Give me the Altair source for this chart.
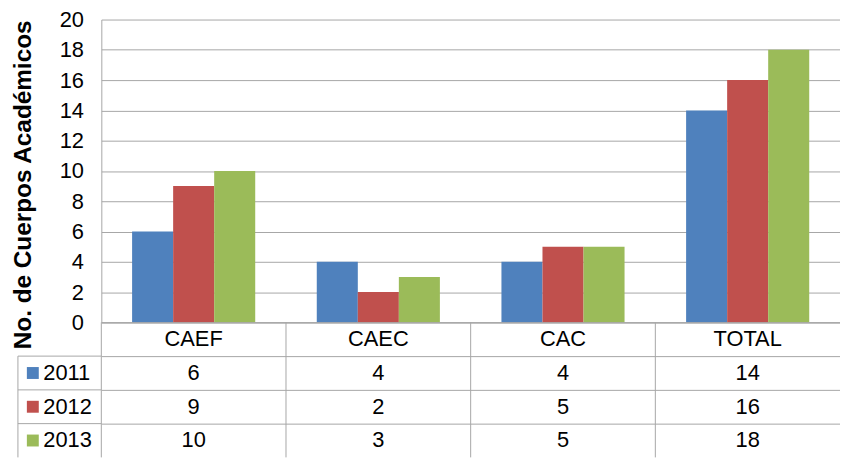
import altair as alt
import pandas as pd

categories = ["CAEF", "CAEC", "CAC", "TOTAL"]
years = ["2011", "2012", "2013"]
v2011 = [6, 4, 4, 14]
v2012 = [9, 2, 5, 16]
v2013 = [10, 3, 5, 18]
colors = ["#4F81BD", "#C0504D", "#9BBB59"]
y_ticks = list(range(0, 21, 2))
y_title = "No. de Cuerpos Académicos"
header_key = "header"

rows = []
for yr, vals in zip(years, [v2011, v2012, v2013]):
    for c, v in zip(categories, vals):
        rows.append({"cat": c, "year": yr, "value": v})
df = pd.DataFrame(rows)

table_rows = [{"cat": c, "row": header_key, "txt": c} for c in categories] + [
    {"cat": r["cat"], "row": r["year"], "txt": str(r["value"])} for r in rows
]
tdf = pd.DataFrame(table_rows)
years_df = pd.DataFrame({"row": years, "year": years})
first_row_df = pd.DataFrame({"row": [years[0]]})
cats_df = pd.DataFrame({"cat": categories})

FONT = "Liberation Sans"
GRID = "#A6A6A6"
W = 744
H_PLOT = 305
H_TABLE = 136

xscale = alt.Scale(domain=categories, paddingInner=0, paddingOuter=0)
color = alt.Color("year:N", scale=alt.Scale(domain=years, range=colors), legend=None)

bars = alt.Chart(df).mark_bar().encode(
    x=alt.X("cat:N", scale=xscale, sort=categories,
            axis=alt.Axis(title=None, labels=False, ticks=False, domain=True,
                          domainColor=GRID, grid=False)),
    xOffset=alt.XOffset("year:N", scale=alt.Scale(domain=years, paddingInner=0, paddingOuter=0.75)),
    y=alt.Y("value:Q", scale=alt.Scale(domain=[0, 20]),
            axis=alt.Axis(values=y_ticks, title=y_title, titleFont=FONT, titleFontSize=24.5,
                          titleFontWeight="bold", titleColor="black", titleX=-78, titleY=166,
                          titleAngle=270, titleBaseline="middle", titleAlign="center",
                          labelFont=FONT, labelFontSize=22, labelColor="black", labelPadding=18,
                          ticks=False, domainColor=GRID, gridColor=GRID)),
    color=color,
).properties(width=W, height=H_PLOT)

ydom = [header_key] + years
yscale = alt.Scale(domain=ydom, paddingInner=0, paddingOuter=0)
xaxis_t = alt.Axis(title=None, labels=False, ticks=False, domain=False, grid=False)
yaxis_t = alt.Axis(title=None, labelExpr=f"datum.value == '{header_key}' ? '' : datum.value",
                   labelAlign="left", labelPadding=59, labelFont=FONT, labelFontSize=22,
                   labelColor="black", ticks=False, domain=False, grid=True, gridColor=GRID,
                   bandPosition=0)

cells = alt.Chart(tdf).mark_text(font=FONT, fontSize=22, color="black").encode(
    x=alt.X("cat:N", scale=xscale, sort=categories, axis=xaxis_t),
    y=alt.Y("row:N", scale=yscale, sort=ydom, axis=yaxis_t),
    text="txt:N",
)

vdividers = alt.Chart(cats_df).mark_rule(color=GRID).encode(
    x=alt.X("cat:N", scale=xscale, sort=categories, axis=xaxis_t, bandPosition=0),
    y=alt.value(0),
    y2=alt.value(H_TABLE),
)

hrules = alt.Chart(years_df).mark_rule(color=GRID).encode(
    y=alt.Y("row:N", scale=yscale, sort=ydom, axis=yaxis_t, bandPosition=0),
    x=alt.value(-84), x2=alt.value(0),
)

vrule = alt.Chart(first_row_df).mark_rule(color=GRID).encode(
    y=alt.Y("row:N", scale=yscale, sort=ydom, axis=yaxis_t, bandPosition=0),
    y2=alt.value(H_TABLE),
    x=alt.value(-84),
)

swatches = alt.Chart(years_df).mark_point(shape="square", filled=True, size=144,
                                          opacity=1, strokeWidth=0).encode(
    x=alt.value(-69),
    y=alt.Y("row:N", scale=yscale, sort=ydom, axis=yaxis_t),
    color=color,
)

table = alt.layer(vdividers, cells, hrules, vrule, swatches).properties(width=W, height=H_TABLE)

chart = alt.vconcat(bars, table, spacing=0, bounds="flush").properties(
    padding={"left": 2, "top": -1, "right": 0, "bottom": 0},
    background="white",
).configure_view(stroke=None)

chart.save("out.html", embed_options={"renderer": "svg", "actions": False})
